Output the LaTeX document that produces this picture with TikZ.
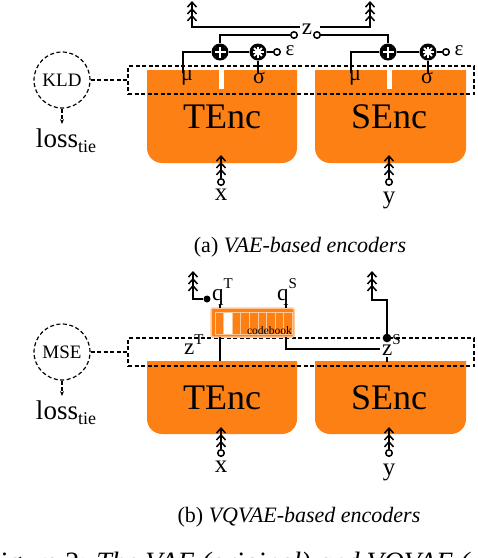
\documentclass[tikz,border=0pt]{standalone}
\usepackage{fontspec}
\setmainfont{Liberation Serif}
\usetikzlibrary{arrows.meta}
\definecolor{encor}{RGB}{253,128,20}
\definecolor{cbedge}{RGB}{255,200,150}
\newcommand\setfs[1]{\fontsize{#1}{#1}\selectfont}
\begin{document}
\begin{tikzpicture}[x=1pt,y=-1pt,
  wire/.style={line width=2pt},
  dashline/.style={line width=1.2pt,dash pattern=on 4pt off 2.5pt},
  lbl/.style={inner sep=0pt},
  term/.style={circle,draw,line width=1.5pt,fill=white,inner sep=0pt,minimum size=6.5pt},
  blackdot/.style={circle,fill=black,inner sep=0pt,minimum size=7pt},
  uparrow/.style={wire,-{Straight Barb[length=5pt,width=9pt,line width=1.5pt] Straight Barb[length=5pt,width=9pt,line width=1.5pt] Straight Barb[length=5pt,width=9pt,line width=1.5pt]}},
  lossnode/.style={circle,draw,dashline,minimum size=56pt,inner sep=0pt,font=\setfs{19}},
  lossarrow/.style={dashline,-{Stealth[length=5pt,width=4pt]}},
  latent/.style={draw,dashline,minimum width=346pt,minimum height=28pt,inner sep=0pt},
  plusop/.style={circle,fill=black,minimum size=17pt,inner sep=0pt,path picture={
     \draw[white,line width=2.4pt] ([xshift=-5.5pt]path picture bounding box.center) -- ([xshift=5.5pt]path picture bounding box.center)
       ([yshift=-5.5pt]path picture bounding box.center) -- ([yshift=5.5pt]path picture bounding box.center);}},
  starop/.style={circle,fill=black,minimum size=17pt,inner sep=0pt,path picture={
     \foreach \a in {0,45,90,135}{\draw[white,line width=1.8pt] ([shift={(\a:5.5pt)}]path picture bounding box.center) -- ([shift={(\a+180:5.5pt)}]path picture bounding box.center);}}},
  codebar/.style={draw=cbedge,line width=1pt,fill=encor}
]
\useasboundingbox (0,0) rectangle (478,558);

% ================= (a) VAE =================
\fill[encor] (147,70) -- (147,148) arc[start angle=180,end angle=90,radius=15] -- (282,163) arc[start angle=90,end angle=0,radius=15] -- (297,70) -- cycle;
\fill[encor] (315,70) -- (315,148) arc[start angle=180,end angle=90,radius=15] -- (451,163) arc[start angle=90,end angle=0,radius=15] -- (466,70) -- cycle;
\fill[white] (219,69) rectangle (224,89);
\fill[white] (387,69) rectangle (392,89);

\node[latent] (latA) at (301,80) {};
\node[lbl,font=\setfs{36}] (tencA) at (222,117) {TEnc};
\node[lbl,font=\setfs{36}] (sencA) at (389,117) {SEnc};

\node[lossnode] (kld) at (62,80) {KLD};
\draw[dashline] (kld) -- (latA);
\coordinate (lossAtip) at (62,124);
\draw[lossarrow] (kld) -- (lossAtip);
\node[lbl,anchor=base,font=\setfs{27}] (lossA) at (66,147) {loss\raisebox{-5pt}{\setfs{18}tie}};

% TEnc side
\node[lbl,font=\setfs{22}] (muT) at (187,78) {μ};
\node[lbl,font=\setfs{22}] (sgT) at (259,78) {σ};
\node[plusop] (plT) at (220,52) {};
\node[starop] (stT) at (258,52) {};
\node[term] (epT) at (277,52) {};
\node[lbl,font=\setfs{21}] (epsT) at (290,51) {ε};
\coordinate (muTtop) at (183,73);
\coordinate (sgTtop) at (258,73);
\draw[wire] (muTtop) |- (plT);
\draw[wire] (sgTtop) -- (stT);
\draw[wire] (plT) -- (stT);
\draw[wire] (stT) -- (epT);

% SEnc side
\node[lbl,font=\setfs{22}] (muS) at (355,78) {μ};
\node[lbl,font=\setfs{22}] (sgS) at (427,78) {σ};
\node[plusop] (plS) at (388,52) {};
\node[starop] (stS) at (428,52) {};
\node[term] (epS) at (446,52) {};
\node[lbl,font=\setfs{21}] (epsS) at (459,51) {ε};
\coordinate (muStop) at (351,73);
\coordinate (sgStop) at (428,73);
\draw[wire] (muStop) |- (plS);
\draw[wire] (sgStop) -- (stS);
\draw[wire] (plS) -- (stS);
\draw[wire] (stS) -- (epS);

% switch z
\node[lbl,font=\setfs{23}] (zA) at (307,29) {z};
\node[term] (swL) at (294,35) {};
\node[term] (swR) at (317,35) {};
\draw[wire] (plT) |- (swL);
\draw[wire] (swR) -| (plS);
\coordinate (outL) at (300,27);
\coordinate (outR) at (320,27);
\coordinate (tipAL) at (192,1);
\coordinate (tipAR) at (370,1);
\draw[uparrow] (outL) -| (tipAL);
\draw[uparrow] (outR) -| (tipAR);

% inputs
\node[term] (xinA) at (221,182) {};
\node[term] (yinA) at (389,182) {};
\coordinate (tencAin) at (221,155);
\coordinate (sencAin) at (389,155);
\draw[uparrow] (xinA) -- (tencAin);
\draw[uparrow] (yinA) -- (sencAin);
\node[lbl,font=\setfs{25}] (xA) at (221,195) {x};
\node[lbl,font=\setfs{25},anchor=base] (yA) at (389,203) {y};

\node[lbl,font=\setfs{22}] (capA) at (300,247) {(a) \textit{VAE-based encoders}};

% ================= (b) VQVAE =================
\fill[encor] (147,361) -- (147,419) arc[start angle=180,end angle=90,radius=15] -- (282,434) arc[start angle=90,end angle=0,radius=15] -- (297,361) -- cycle;
\fill[encor] (315,361) -- (315,419) arc[start angle=180,end angle=90,radius=15] -- (451,434) arc[start angle=90,end angle=0,radius=15] -- (466,361) -- cycle;

\node[latent] (latB) at (301,352) {};
\node[lbl,font=\setfs{36}] (tencB) at (222,398) {TEnc};
\node[lbl,font=\setfs{36}] (sencB) at (389,398) {SEnc};

\node[lossnode] (mse) at (62,352) {MSE};
\draw[dashline] (mse) -- (latB);
\coordinate (lossBtip) at (62,396);
\draw[lossarrow] (mse) -- (lossBtip);
\node[lbl,anchor=base,font=\setfs{27}] (lossB) at (66,419) {loss\raisebox{-5pt}{\setfs{18}tie}};

% codebook
\node[draw=cbedge,line width=1.5pt,fill=encor,rounded corners=1.5pt,minimum width=83pt,minimum height=29pt,inner sep=0pt] (cb) at (252.5,322.5) {};
\foreach \i in {0,...,8}{
  \pgfmathsetmacro\bx{215+\i*8.6}
  \ifnum\i=1
    \draw[codebar,fill=white] (\bx,312) rectangle (\bx+8.6,334);
  \else
    \draw[codebar] (\bx,312) rectangle (\bx+8.6,334);
  \fi
}
\node[lbl,anchor=base east,font=\setfs{11.5}] (cbtxt) at (292,334) {codebook};

\node[lbl,anchor=base west,font=\setfs{23}] (qT) at (212,300) {q\raisebox{12pt}{\setfs{15}T}};
\node[lbl,anchor=base west,font=\setfs{23}] (qS) at (277,300) {q\raisebox{12pt}{\setfs{15}S}};
\node[lbl,anchor=base west,font=\setfs{23}] (zT) at (184,354) {z\raisebox{10pt}{\setfs{15}T}};
\node[lbl,anchor=base west,font=\setfs{23}] (zS) at (382,355) {z\raisebox{11pt}{\setfs{15}S}};

\coordinate (qTfoot) at (220,304);
\coordinate (cbTtop) at (220,308);
\coordinate (qSfoot) at (286,304);
\coordinate (cbStop) at (286,308);
\draw[wire] (qTfoot) -- (cbTtop);
\draw[wire] (qSfoot) -- (cbStop);

\coordinate (cbTbot) at (220,337);
\coordinate (tencBtop) at (220,361);
\draw[wire] (cbTbot) -- (tencBtop);

\coordinate (cbSbot) at (286,337);
\coordinate (zSin) at (380,349);
\draw[wire] (cbSbot) |- (zSin);

\node[blackdot] (qdot) at (207,299) {};
\coordinate (tipBL) at (193,271);
\draw[uparrow] (qdot) -| (tipBL);

\node[term,fill=black,minimum size=7pt] (zSdot) at (387,338) {};
\coordinate (zSbend) at (387,300);
\coordinate (tipBR) at (372,271);
\draw[uparrow] (zSdot) -- (zSbend) -| (tipBR);
\coordinate (zSfoot) at (387,357);
\coordinate (sencBtop) at (387,362);
\draw[wire] (zSfoot) -- (sencBtop);

% inputs
\node[term] (xinB) at (221,453) {};
\node[term] (yinB) at (389,453) {};
\coordinate (tencBin) at (221,427);
\coordinate (sencBin) at (389,427);
\draw[uparrow] (xinB) -- (tencBin);
\draw[uparrow] (yinB) -- (sencBin);
\node[lbl,font=\setfs{25}] (xB) at (221,467) {x};
\node[lbl,font=\setfs{25},anchor=base] (yB) at (389,475) {y};

\node[lbl,font=\setfs{22}] (capB) at (299,517) {(b) \textit{VQVAE-based encoders}};

\begin{scope}
\clip (0,0) rectangle (478,558);
\node[lbl,anchor=base west,font=\setfs{28}] (figcap) at (-15,571) {Figure 2: \textit{The VAE (original) and VQVAE (p}};
\end{scope}
\end{tikzpicture}
\end{document}
